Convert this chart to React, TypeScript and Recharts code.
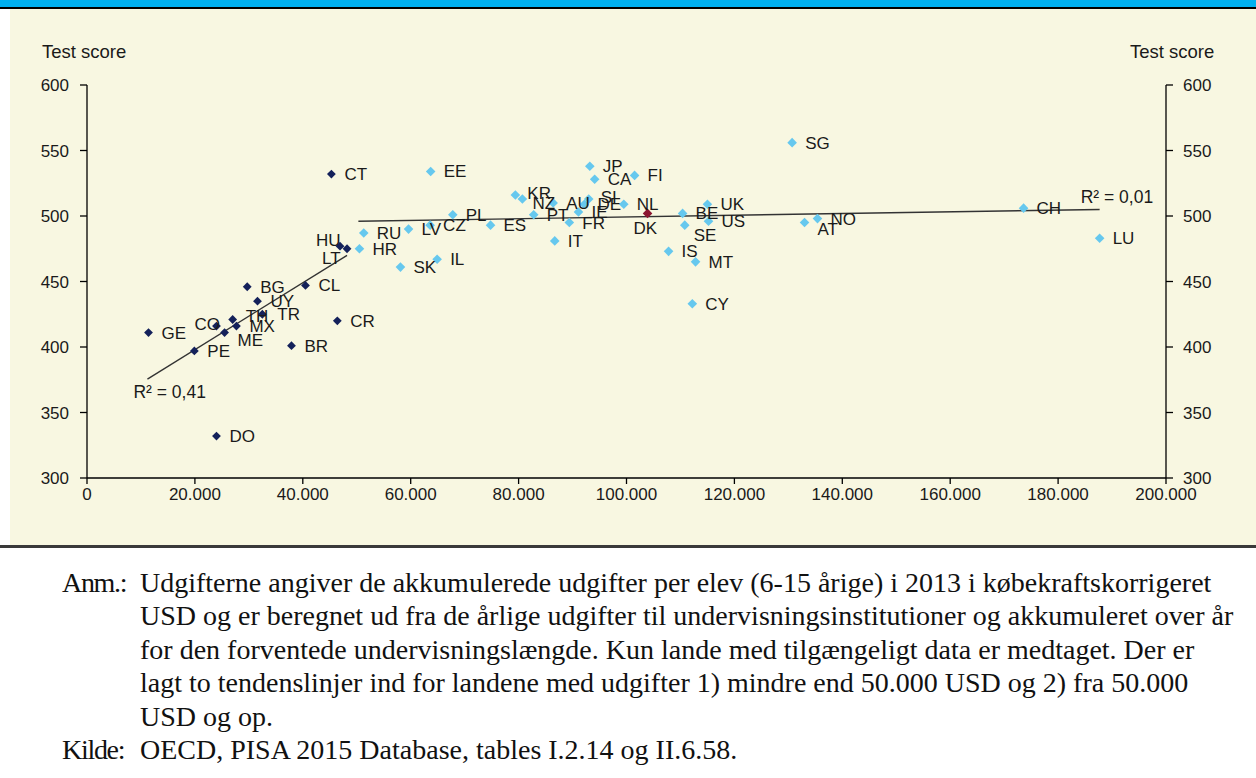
import React from "react"
import { ScatterChart, Scatter, XAxis, YAxis, ReferenceLine } from "recharts"

// Countries with spending below 50.000 USD (dark markers)
const lowNames = ["CT", "HU", "LT", "GE", "PE", "CO", "TH", "ME", "MX", "TR", "UY", "BG", "CL", "CR", "BR", "DO"]
const lowSpend = [45300, 46900, 48200, 11400, 19900, 24000, 27000, 25500, 27700, 32500, 31600, 29700, 40500, 46400, 37900, 24000]
const lowScore = [532, 477, 475, 411, 397, 416, 421, 411, 416, 425, 435, 446, 447, 420, 401, 332]

// Countries with spending from 50.000 USD (light markers)
const highNames = ["RU", "HR", "LV", "CZ", "PL", "EE", "SK", "IL", "ES", "KR", "NZ", "PT", "AU", "SI", "DE", "IE", "FR", "IT", "NL", "JP", "CA", "FI", "BE", "UK", "US", "SE", "IS", "MT", "CY", "SG", "AT", "NO", "CH", "LU"]
const highSpend = [51300, 50500, 59600, 63600, 67800, 63700, 58100, 64900, 74800, 79400, 80700, 82800, 86400, 93000, 92200, 91100, 89400, 86700, 99500, 93200, 94100, 101500, 110400, 115000, 115200, 110800, 107800, 112800, 112200, 130700, 133000, 135400, 173600, 187700]
const highScore = [487, 475, 490, 493, 501, 534, 461, 467, 493, 516, 513, 501, 510, 513, 509, 503, 495, 481, 509, 538, 528, 531, 502, 509, 496, 493, 473, 465, 433, 556, 495, 498, 506, 483]

// Denmark highlighted
const dkNames = ["DK"]
const dkSpend = [103900]
const dkScore = [502]

// Trend lines (end points)
const trendLowX = [11200, 48200]
const trendLowY = [375.5, 470]
const trendHighX = [50300, 187700]
const trendHighY = [496, 505]

const xTicks = [0, 20000, 40000, 60000, 80000, 100000, 120000, 140000, 160000, 180000, 200000]
const yTicks = [300, 350, 400, 450, 500, 550, 600]

const noteLines = [
    "Udgifterne angiver de akkumulerede udgifter per elev (6-15 årige) i 2013 i købekraftskorrigeret",
    "USD og er beregnet ud fra de årlige udgifter til undervisningsinstitutioner og akkumuleret over år",
    "for den forventede undervisningslængde. Kun lande med tilgængeligt data er medtaget. Der er",
    "lagt to tendenslinjer ind for landene med udgifter 1) mindre end 50.000 USD og 2) fra 50.000",
    "USD og op.",
]
const sourceLine = "OECD, PISA 2015 Database, tables I.2.14 og II.6.58."

// label placement tweaks (default: right of the marker)
const labelShift: Record<string, [number, number]> = {
    CO: [-22, -2],
    HU: [-24, -6],
    LT: [-25, 9],
    ME: [13, 7],
    TH: [13, -3],
    TR: [15, 0],
    KR: [12, -2],
    NZ: [10, 4],
    SI: [12, -2],
    SE: [9, 10],
    DK: [-14, 15],
    AT: [13, 6],
}

const toPoints = (names: string[], xs: number[], ys: number[]) =>
    names.map((name, i) => ({ name, x: xs[i], y: ys[i] }))

const lowData = toPoints(lowNames, lowSpend, lowScore)
const highData = toPoints(highNames, highSpend, highScore)
const dkData = toPoints(dkNames, dkSpend, dkScore)
const allData = [...lowData, ...highData, ...dkData]

const FONT = "'Liberation Sans', Arial, sans-serif"
const SERIF = "'Liberation Serif', 'Times New Roman', serif"
const TEXT = "#1a1a1a"

const diamond = (color: string, r: number) => (props: any) => {
    const { cx, cy } = props
    if (cx == null || cy == null) return <g />
    return <path d={`M${cx},${cy - r}L${cx + r},${cy}L${cx},${cy + r}L${cx - r},${cy}Z`} fill={color} />
}

const pointLabel = (props: any) => {
    const { cx, cy, payload } = props
    if (cx == null || cy == null) return <g />
    const [dx, dy] = labelShift[payload.name] ?? [13, 0]
    return (
        <text x={cx + dx} y={cy + dy + 6} fontSize={17} fontFamily={FONT} fill={TEXT}>
            {payload.name}
        </text>
    )
}

const fmtThousands = (v: number) => String(v).replace(/\B(?=(\d{3})+(?!\d))/g, ".")

export default function App() {
    const tickStyle = { fontSize: 17, fontFamily: FONT, fill: TEXT }
    const axisLine = { stroke: "#000", strokeWidth: 1.3 }
    const noteStyle: React.CSSProperties = { position: "absolute", fontFamily: SERIF, fontSize: 28, lineHeight: "33px", color: "#111", whiteSpace: "nowrap" }

    return (
        <div style={{ position: "absolute", left: 0, top: 0, width: 1256, height: 778, background: "#fff", overflow: "hidden" }}>
            <div style={{ position: "absolute", left: 0, top: 0, width: 1256, height: 7, background: "#00b0f0" }} />
            <div style={{ position: "absolute", left: 0, top: 7, width: 1256, height: 2, background: "#000" }} />
            <div style={{ position: "absolute", left: 10, top: 9, width: 1246, height: 536, background: "#f8f7e1" }} />
            <div style={{ position: "absolute", left: 0, top: 545, width: 1256, height: 3, background: "#3a3a3a" }} />

            <div style={{ position: "absolute", left: 42, top: 41, fontFamily: FONT, fontSize: 18.5, color: TEXT, whiteSpace: "nowrap" }}>Test score</div>
            <div style={{ position: "absolute", left: 1130, top: 41, fontFamily: FONT, fontSize: 18.5, color: TEXT, whiteSpace: "nowrap" }}>Test score</div>

            <div style={{ position: "absolute", left: 0, top: 0 }}>
                <ScatterChart width={1256} height={545} margin={{ top: 85, right: 0, bottom: 27, left: 0 }}>
                    <XAxis
                        type="number"
                        dataKey="x"
                        domain={[0, 200000]}
                        ticks={xTicks}
                        tickFormatter={fmtThousands}
                        height={40}
                        tick={tickStyle}
                        axisLine={axisLine}
                        tickLine={axisLine}
                        tickSize={6}
                        tickMargin={4}
                        allowDataOverflow
                    />
                    <YAxis
                        yAxisId="l"
                        type="number"
                        dataKey="y"
                        domain={[300, 600]}
                        ticks={yTicks}
                        width={87}
                        tick={tickStyle}
                        axisLine={axisLine}
                        tickLine={axisLine}
                        tickSize={7}
                        tickMargin={11}
                        allowDataOverflow
                    />
                    <YAxis
                        yAxisId="r"
                        orientation="right"
                        type="number"
                        domain={[300, 600]}
                        ticks={yTicks}
                        width={90}
                        tick={tickStyle}
                        axisLine={axisLine}
                        tickLine={axisLine}
                        tickSize={7}
                        tickMargin={10}
                        allowDataOverflow
                    />
                    <ReferenceLine
                        yAxisId="l"
                        segment={[{ x: trendLowX[0], y: trendLowY[0] }, { x: trendLowX[1], y: trendLowY[1] }]}
                        stroke="#333"
                        strokeWidth={1.4}
                        ifOverflow="visible"
                        label={(p: any) => {
                            const vb = p.viewBox || {}
                            return (
                                <text x={(vb.x ?? 0) - 14} y={(vb.y ?? 0) + (vb.height ?? 0) + 19} fontSize={17.5} fontFamily={FONT} fill={TEXT}>
                                    R² = 0,41
                                </text>
                            )
                        }}
                    />
                    <ReferenceLine
                        yAxisId="l"
                        segment={[{ x: trendHighX[0], y: trendHighY[0] }, { x: trendHighX[1], y: trendHighY[1] }]}
                        stroke="#333"
                        strokeWidth={1.4}
                        ifOverflow="visible"
                        label={(p: any) => {
                            const vb = p.viewBox || {}
                            return (
                                <text x={(vb.x ?? 0) + (vb.width ?? 0) - 19} y={(vb.y ?? 0) - 6} fontSize={17.5} fontFamily={FONT} fill={TEXT}>
                                    R² = 0,01
                                </text>
                            )
                        }}
                    />
                    <Scatter yAxisId="l" data={lowData} fill="#14215a" shape={diamond("#14215a", 4.4)} isAnimationActive={false} />
                    <Scatter yAxisId="l" data={highData} fill="#66c8ee" shape={diamond("#66c8ee", 4.8)} isAnimationActive={false} />
                    <Scatter yAxisId="l" data={dkData} fill="#8b1530" shape={diamond("#8b1530", 4.8)} isAnimationActive={false} />
                    <Scatter yAxisId="l" data={allData} fill="none" shape={pointLabel} isAnimationActive={false} />
                </ScatterChart>
            </div>

            <div style={{ ...noteStyle, left: 62, top: 566, letterSpacing: -1.3 }}>Anm.:</div>
            {noteLines.map((line, i) => (
                <div key={i} style={{ ...noteStyle, left: 140, top: 566 + i * 33.4 }}>
                    {line}
                </div>
            ))}
            <div style={{ ...noteStyle, left: 62, top: 733, letterSpacing: -1.3 }}>Kilde:</div>
            <div style={{ ...noteStyle, left: 140, top: 733 }}>{sourceLine}</div>
        </div>
    )
}
